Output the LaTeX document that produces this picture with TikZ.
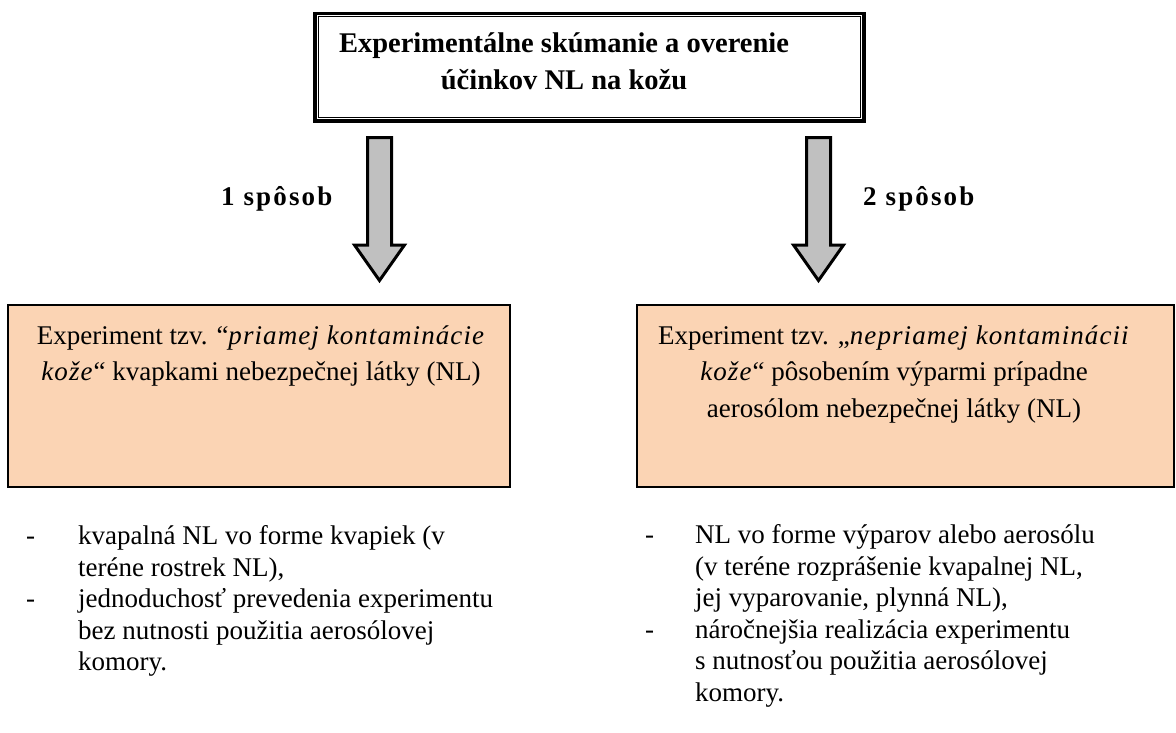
\documentclass[tikz,border=0pt]{standalone}
\usepackage{fontspec}
\setmainfont{Liberation Serif}
\usetikzlibrary{calc}
\definecolor{peach}{HTML}{FBD4B4}
\definecolor{arrowgray}{HTML}{C0C0C0}
\tikzset{
  x=1pt, y=-1pt,
  titleframe/.style={draw, line width=3.5pt, minimum width=549pt, minimum height=107.5pt, inner sep=0pt},
  titletext/.style={font=\fontsize{28.5}{37}\selectfont\bfseries, align=center, inner sep=0pt, anchor=north},
  peachbox/.style={draw, fill=peach, line width=1.2pt, inner sep=0pt},
  boxtext/.style={font=\fontsize{27}{36.5}\selectfont, align=center, inner sep=0pt, anchor=north},
  waylabel/.style={font=\fontsize{27}{32}\selectfont\bfseries\addfontfeature{LetterSpace=8}, inner sep=0pt, anchor=base west},
  blockarrow/.style={draw, fill=arrowgray, line width=3pt, line join=miter},
  dashmark/.style={font=\fontsize{27}{31.5}\selectfont, inner sep=0pt, anchor=base west},
  bullettext/.style={font=\fontsize{27}{31.5}\selectfont, align=left, inner sep=0pt, anchor=north west},
}
\newcommand{\spaced}[1]{{\addfontfeature{LetterSpace=4}#1}}
\begin{document}
\begin{tikzpicture}
\useasboundingbox (0,0) rectangle (1176,732);
% title
\node[titleframe] (top) at (589.5,67.25) {};
\draw[line width=1.3pt] ([shift={(5,5)}]top.north west) rectangle ([shift={(-5,-5)}]top.south east);
\node[titletext] (toptext) at (564,32.8) {Experimentálne skúmanie a overenie\\účinkov NL na kožu};
% boxes
\node[peachbox, minimum width=502pt, minimum height=182pt] (left) at (259,396) {};
\node[peachbox, minimum width=537pt, minimum height=182pt] (right) at (905.5,396) {};
\node[boxtext] (lefttext) at (261,325.4) {Experiment tzv. “\textit{\spaced{priamej kontaminácie}}\\\textit{\spaced{kože}}“ kvapkami nebezpečnej látky (NL)};
\node[boxtext] (righttext) at (894,325.4) {Experiment tzv. „\textit{\spaced{nepriamej kontaminácii}}\\\textit{\spaced{kože}}“ pôsobením výparmi prípadne\\aerosólom nebezpečnej látky (NL)};
% block arrows
\draw[blockarrow] (367.5,137.5) -- (391.5,137.5) -- (391.5,245) -- (404.5,245) -- (379.5,280.5) -- (354.5,245) -- (367.5,245) -- cycle;
\draw[blockarrow] (806.5,137.5) -- (830.5,137.5) -- (830.5,245) -- (843.5,245) -- (818.5,280.5) -- (793.5,245) -- (806.5,245) -- cycle;
\node[waylabel] (way1) at (221,205) {1 spôsob};
\node[waylabel] (way2) at (863,205) {2 spôsob};
% bullets left
\node[dashmark] (ld1) at (26,544) {-};
\node[bullettext] (lb1) at (78,525.4) {kvapalná NL vo forme kvapiek (v\\teréne rostrek NL),};
\node[dashmark] (ld2) at (26,607) {-};
\node[bullettext] (lb2) at (78,588.4) {jednoduchosť prevedenia experimentu\\bez nutnosti použitia aerosólovej\\komory.};
% bullets right
\node[dashmark] (rd1) at (645,543) {-};
\node[bullettext] (rb1) at (695,524.4) {NL vo forme výparov alebo aerosólu\\(v teréne rozprášenie kvapalnej NL,\\jej vyparovanie, plynná NL),};
\node[dashmark] (rd2) at (645,638) {-};
\node[bullettext] (rb2) at (695,619.4) {náročnejšia realizácia experimentu\\s nutnosťou použitia aerosólovej\\komory.};
\end{tikzpicture}
\end{document}
